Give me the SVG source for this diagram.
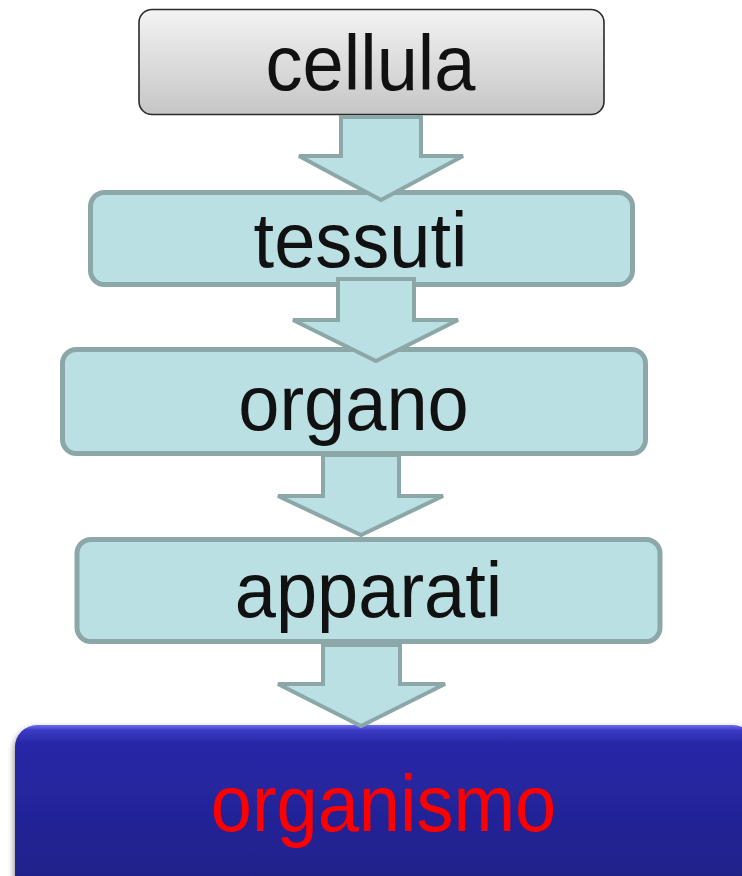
<svg xmlns="http://www.w3.org/2000/svg" width="742" height="876" viewBox="0 0 742 876">
  <defs>
    <linearGradient id="grayFill" x1="0" y1="0" x2="0" y2="1">
      <stop offset="0" stop-color="#f3f3f3"/>
      <stop offset="1" stop-color="#c6c6c6"/>
    </linearGradient>
    <linearGradient id="blueFill" x1="0" y1="0" x2="0" y2="1">
      <stop offset="0" stop-color="#6c6cf2"/>
      <stop offset="0.03" stop-color="#3a3ac4"/>
      <stop offset="0.1" stop-color="#2828a8"/>
      <stop offset="1" stop-color="#1e1e84"/>
    </linearGradient>
    <filter id="softShadow" x="-10%" y="-10%" width="120%" height="130%">
      <feGaussianBlur in="SourceAlpha" stdDeviation="3"/>
      <feOffset dx="-1" dy="3" result="blur"/>
      <feComponentTransfer><feFuncA type="linear" slope="0.45"/></feComponentTransfer>
      <feMerge><feMergeNode/><feMergeNode in="SourceGraphic"/></feMerge>
    </filter>
  </defs>
  <style>
    .step { fill: #bbe0e3; stroke: #8ba7a8; stroke-width: 5; }
    .arrow { fill: #bbe0e3; stroke: #8ba7a8; stroke-width: 4; stroke-linejoin: miter; }
    .label { font-family: "Liberation Sans", Arial, Helvetica, sans-serif; font-size: 74px; text-anchor: middle; fill: #111111; }
  </style>

  <!-- top level: cell -->
  <g id="cellula">
    <rect x="139" y="9.5" width="465" height="105" rx="13" fill="url(#grayFill)" stroke="#2a2a2a" stroke-width="1.6"/>
    <text class="label" transform="translate(370.5 90) scale(1 1.06)">cellula</text>
  </g>

  <g id="tessuti">
    <rect class="step" x="90.5" y="192.5" width="542" height="92" rx="14"/>
    <text class="label" transform="translate(360.5 267) scale(1 1.06)">tessuti</text>
  </g>

  <g id="organo">
    <rect class="step" x="62.5" y="349.5" width="583" height="104" rx="14"/>
    <text class="label" transform="translate(353.5 430) scale(1 1.06)">organo</text>
  </g>

  <g id="apparati">
    <rect class="step" x="77" y="539.5" width="583" height="102" rx="14"/>
    <text class="label" transform="translate(368.5 617) scale(1 1.06)">apparati</text>
  </g>

  <g id="organismo">
    <rect x="15" y="725" width="740" height="180" rx="22" fill="url(#blueFill)" filter="url(#softShadow)"/>
    <text class="label" transform="translate(383.5 831) scale(1 1.08)" style="fill:#ff0000">organismo</text>
  </g>

  <!-- block arrows between levels -->
  <g id="connectors">
    <path class="arrow" d="M341,117 H421 V156 H463 L381,200 L299,156 H341 Z"/>
    <path class="arrow" d="M338,279 H414 V320 H458 L376,361 L293,320 H338 Z"/>
    <path class="arrow" d="M323,455 H399 V496 H443 L361,535 L278,496 H323 Z"/>
    <path class="arrow" d="M323,645 H400 V684 H445 L361,726 L278,684 H323 Z"/>
  </g>
</svg>
